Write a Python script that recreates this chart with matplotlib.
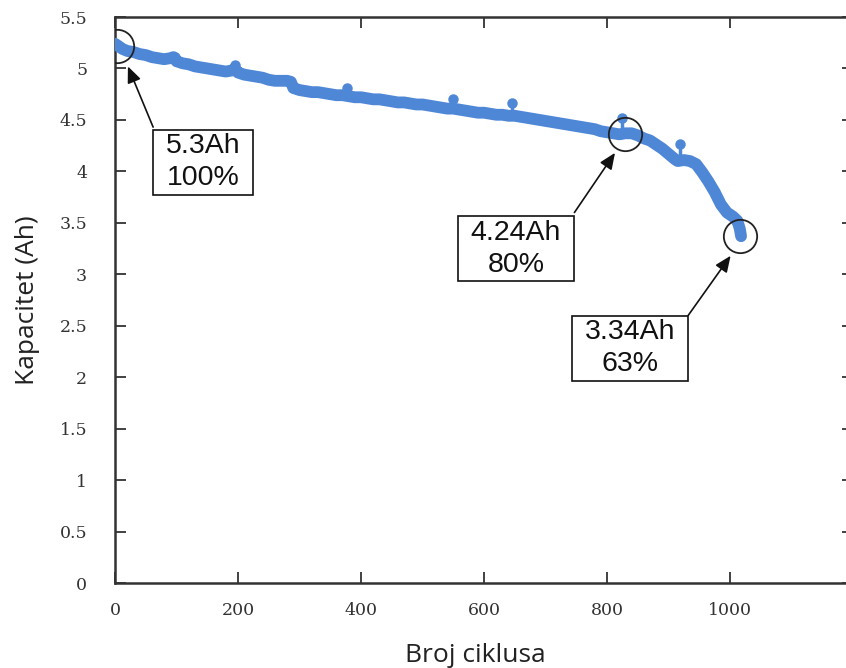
import matplotlib
matplotlib.use("Agg")
import matplotlib.pyplot as plt
from matplotlib.path import Path

# ---- data ----
cycles = [0, 5, 12, 20, 30, 40, 50, 60, 70, 80, 90, 95, 100, 110, 120, 130, 140, 150, 160, 170,
          180, 190, 195, 200, 210, 220, 230, 240, 250, 260, 270, 280, 286, 290, 300, 310, 320, 330,
          340, 350, 360, 370, 380, 390, 400, 410, 420, 430, 440, 450, 460, 470, 480, 490, 500, 510,
          520, 530, 540, 550, 560, 570, 580, 590, 600, 610, 620, 630, 640, 650, 660, 670, 680, 690,
          700, 710, 720, 730, 740, 750, 760, 770, 780, 790, 800, 810, 820, 830, 840, 850, 860, 870,
          880, 890, 900, 910, 915, 925, 935, 945, 955, 965, 975, 985, 995, 1005, 1012, 1016, 1018]
capacity = [5.24, 5.22, 5.19, 5.17, 5.16, 5.14, 5.13, 5.11, 5.10, 5.09, 5.10, 5.11, 5.07, 5.05, 5.04,
            5.02, 5.01, 5.00, 4.99, 4.98, 4.97, 4.98, 5.00, 4.96, 4.94, 4.93, 4.92, 4.91, 4.89, 4.88,
            4.88, 4.88, 4.87, 4.81, 4.79, 4.78, 4.77, 4.77, 4.76, 4.75, 4.74, 4.74, 4.73, 4.72, 4.72,
            4.71, 4.70, 4.70, 4.69, 4.68, 4.67, 4.67, 4.66, 4.65, 4.65, 4.64, 4.63, 4.62, 4.61, 4.61,
            4.60, 4.59, 4.58, 4.57, 4.57, 4.56, 4.55, 4.55, 4.54, 4.54, 4.53, 4.52, 4.51, 4.50, 4.49,
            4.48, 4.47, 4.46, 4.45, 4.44, 4.43, 4.42, 4.41, 4.39, 4.38, 4.37, 4.36, 4.37, 4.37, 4.35,
            4.32, 4.30, 4.26, 4.22, 4.17, 4.12, 4.10, 4.11, 4.10, 4.07, 3.99, 3.90, 3.80, 3.68, 3.60,
            3.56, 3.52, 3.44, 3.37]

spike_cycles = [98, 195, 377, 550, 646, 825, 919]
spike_base = [5.07, 4.97, 4.73, 4.61, 4.54, 4.36, 4.11]
spike_peak = [5.11, 5.03, 4.81, 4.70, 4.66, 4.52, 4.27]

marked_cycles = [3, 830, 1017]
marked_capacity = [5.22, 4.36, 3.37]
marked_labels = ["5.3Ah\n100%", "4.24Ah\n80%", "3.34Ah\n63%"]
label_pos = [(143, 4.09), (652, 3.25), (838, 2.28)]
arrow_start = [(62, 4.43), (747, 3.60), (932, 2.60)]
arrow_tip = [(21, 5.02), (813, 4.18), (1001, 3.18)]

xticks = [0, 200, 400, 600, 800, 1000]
yticks = [0, 0.5, 1, 1.5, 2, 2.5, 3, 3.5, 4, 4.5, 5, 5.5]
ytick_labels = ["0", "0.5", "1", "1.5", "2", "2.5", "3", "3.5", "4", "4.5", "5", "5.5"]

blue = "#4f87d7"
dark = "#333333"


def label_box(x0, y0, width, height, mutation_size):
    px = 0.45 * mutation_size
    py = 0.12 * mutation_size
    xa, xb = x0 - px, x0 + width + px
    ya, yb = y0 - py, y0 + height + py
    return Path([(xa, ya), (xb, ya), (xb, yb), (xa, yb), (xa, ya)],
                [Path.MOVETO, Path.LINETO, Path.LINETO, Path.LINETO, Path.CLOSEPOLY])


fig = plt.figure(figsize=(8.46, 6.68), dpi=100)
ax = fig.add_axes([115 / 846, 1 - 583 / 668, 738 / 846, 566 / 668])

ax.plot(cycles, capacity, color=blue, lw=8.5, solid_capstyle="round", solid_joinstyle="round", zorder=3)
for sx, sb, sp in zip(spike_cycles, spike_base, spike_peak):
    ax.plot([sx, sx], [sb, sp], color=blue, lw=2.5, zorder=3)
ax.plot(spike_cycles, spike_peak, "o", color=blue, ms=6.5, zorder=3)

ax.plot(marked_cycles, marked_capacity, "o", ms=24, mfc="none", mec="#222222", mew=1.3, zorder=4)

for start, tip in zip(arrow_start, arrow_tip):
    ax.annotate("", xy=tip, xytext=start,
                arrowprops=dict(arrowstyle="-|>,head_length=0.7,head_width=0.3", color="#111111",
                                lw=1.2, shrinkA=0, shrinkB=0, mutation_scale=14),
                zorder=5)

for txt, pos in zip(marked_labels, label_pos):
    ax.text(pos[0], pos[1], txt, ha="center", va="center",
            fontsize=20.5, family="Liberation Sans", color="#111111", linespacing=1.3,
            bbox=dict(boxstyle=label_box, fc="white", ec="#111111", lw=1.2),
            zorder=6)

ax.set_xlim(0, 1200)
ax.set_ylim(0, 5.5)
ax.set_xticks(xticks)
ax.set_xticklabels([str(t) for t in xticks])
ax.set_yticks(yticks)
ax.set_yticklabels(ytick_labels)

ax.tick_params(axis="both", direction="in", length=8, width=1.3, color=dark,
               labelsize=12.5, labelcolor="#333333", top=True, right=True)
ax.tick_params(axis="y", pad=20)
ax.tick_params(axis="x", pad=14)
for lab in ax.get_xticklabels() + ax.get_yticklabels():
    lab.set_family("DejaVu Serif")

for sp in ax.spines.values():
    sp.set_color(dark)
    sp.set_linewidth(1.8)

ax.set_xlabel("Broj ciklusa", fontsize=19, family="Open Sans", color="#222222")
ax.set_ylabel("Kapacitet (Ah)", fontsize=19, family="Open Sans", color="#222222")
ax.xaxis.set_label_coords((475 - 115) / 738, -(643 - 583) / 566)
ax.yaxis.set_label_coords(-(115 - 40) / 738, 0.5)

fig.savefig("out.png", dpi=100)
